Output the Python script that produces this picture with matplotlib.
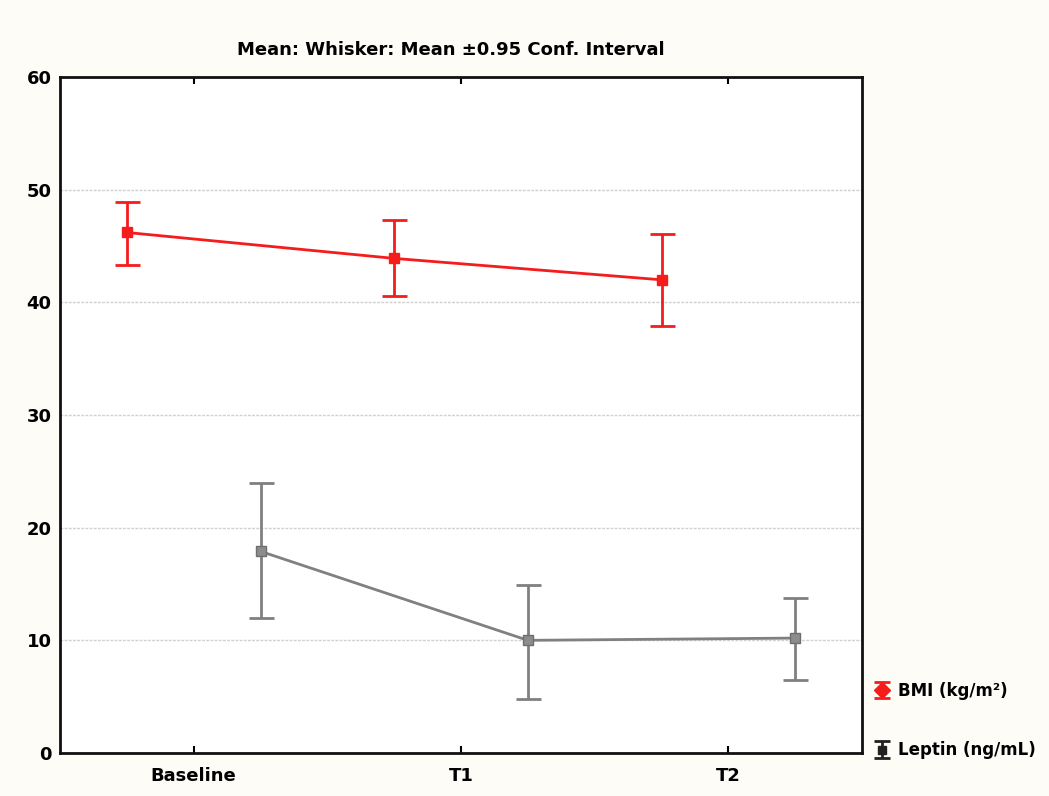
import matplotlib.pyplot as plt
import numpy as np

# Data
categories = ["Baseline", "T1", "T2"]
bmi_mean = [46.2, 43.9, 42.0]
bmi_upper = [48.9, 47.3, 46.1]
bmi_lower = [43.3, 40.6, 37.9]
leptin_mean = [17.9, 10.0, 10.2]
leptin_upper = [24.0, 14.9, 13.8]
leptin_lower = [12.0, 4.8, 6.5]

x = np.arange(len(categories))

fig = plt.figure(figsize=(10.49, 7.96), dpi=100, facecolor="#fdfcf7")
ax = fig.add_axes([60 / 1049, 43 / 796, 802 / 1049, 676 / 796])
ax.set_facecolor("white")

# BMI (red), shifted left
bmi_err = [np.subtract(bmi_mean, bmi_lower), np.subtract(bmi_upper, bmi_mean)]
ax.errorbar(x - 0.25, bmi_mean, yerr=bmi_err, color="#f51c1c", lw=2,
            marker="s", ms=7, capsize=9, capthick=2, elinewidth=2, zorder=3)

# Leptin (gray), shifted right
lep_err = [np.subtract(leptin_mean, leptin_lower), np.subtract(leptin_upper, leptin_mean)]
ax.errorbar(x + 0.25, leptin_mean, yerr=lep_err, color="#808080", lw=2,
            marker="s", ms=7, mfc="#8c8c8c", mec="#6e6e6e", capsize=9,
            capthick=2, elinewidth=2, zorder=3)

ax.set_xlim(-0.5, 2.5)
ax.set_ylim(0, 60)
ax.set_yticks([0, 10, 20, 30, 40, 50, 60])
ax.set_xticks(x)
ax.set_xticklabels(categories)

# dotted horizontal grid
for y in [10, 20, 30, 40, 50]:
    ax.axhline(y, color="#d0d0d0", lw=1, ls=(0, (2, 1)), zorder=1)

for s in ax.spines.values():
    s.set_linewidth(2)
    s.set_color("#111111")

ax.tick_params(axis="x", direction="in", length=5, width=1.5, top=True,
               labelsize=13, pad=10)
ax.tick_params(axis="y", length=0, labelsize=13, pad=6)
for lab in ax.get_xticklabels() + ax.get_yticklabels():
    lab.set_fontweight("bold")

fig.text(0.43, 0.937, "Mean: Whisker: Mean \u00b10.95 Conf. Interval",
         ha="center", va="center", fontsize=13, fontweight="bold")

# Legend handles drawn on a hidden helper axes so the caps show up
hx = fig.add_axes([0, 0, 0.001, 0.001])
hx.set_visible(False)
h1 = hx.errorbar([0], [0], yerr=[1], color="#f51c1c", marker="D", ms=8,
                 capsize=6, capthick=2, elinewidth=2, ls="none")
h2 = hx.errorbar([0], [0], yerr=[1], color="#222222", marker="s", ms=6,
                 capsize=6, capthick=2, elinewidth=2, ls="none")
leg = fig.legend([h1, h2], ["BMI (kg/m\u00b2)", "Leptin (ng/mL)"],
                 loc="upper left", bbox_to_anchor=(866 / 1049, 1 - 675 / 796),
                 frameon=False, fontsize=12, handlelength=1.1,
                 handletextpad=0.4, labelspacing=2.5, borderaxespad=0)
for t in leg.get_texts():
    t.set_fontweight("bold")

fig.savefig("out.png", dpi=100, facecolor=fig.get_facecolor())
